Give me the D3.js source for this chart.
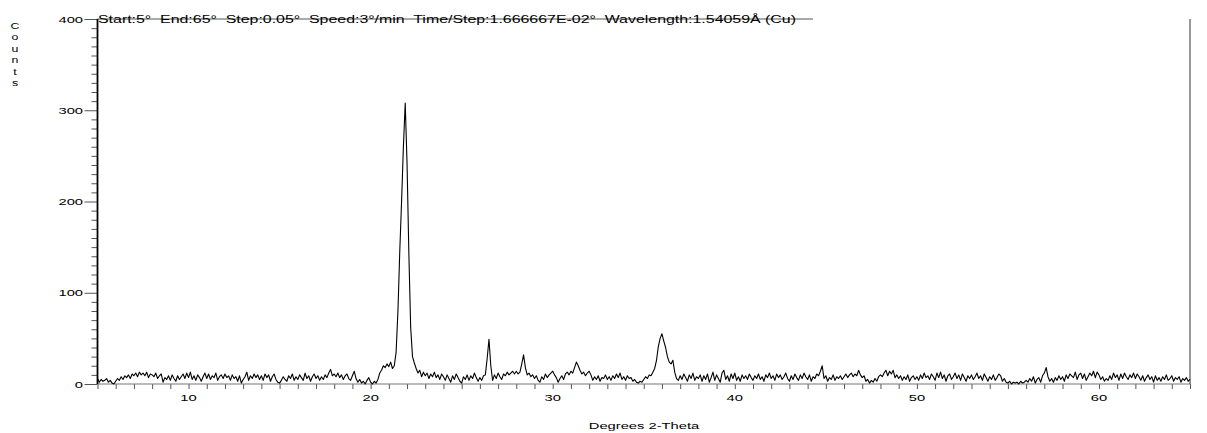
<!DOCTYPE html>
<html>
<head>
<meta charset="utf-8">
<script src="https://cdn.jsdelivr.net/npm/d3@7"></script>
<style>
  html, body { margin: 0; padding: 0; background: #fff; }
  svg { display: block; }
  text { font-family: "Liberation Sans", Arial, sans-serif; fill: #000; }
</style>
</head>
<body>
<svg id="chart" width="1207" height="433"></svg>
<script>
// ---- data ----
const startAngle = 5;      // degrees 2-theta
const angleStep = 0.1;     // sampling of the read-off values
const counts = [
  6,2,5,3,4,6,2,4,1,0,
  3,6,4,8,5,9,7,10,6,11,
  9,12,8,13,10,12,9,13,7,11,
  10,8,12,6,9,11,2,7,5,9,
  4,10,6,3,9,5,8,11,6,12,
  7,13,5,9,4,10,7,3,8,12,
  6,11,5,9,7,12,4,8,10,6,
  11,7,9,4,10,6,8,3,9,1,
  5,8,13,4,9,6,11,7,10,5,
  9,4,11,7,10,3,8,11,5,2,
  1,4,8,5,3,9,6,11,4,8,
  5,10,7,4,12,6,9,3,8,11,
  6,9,4,8,5,10,7,12,16,9,
  11,8,12,7,10,5,9,11,6,4,
  9,14,6,2,5,1,3,0,4,7,
  2,0,3,1,5,12,15,20,18,22,
  19,24,17,20,35,80,145,200,260,308,
  242,143,62,30,23,17,12,15,8,13,
  9,12,6,11,8,13,7,10,5,11,
  8,4,10,6,2,9,5,11,7,3,
  1,8,5,10,4,9,6,12,7,3,
  7,4,9,10,28,49,20,4,10,6,
  12,8,5,11,9,13,10,12,14,11,
  14,11,13,22,32,18,10,12,8,10,
  6,9,4,2,8,5,11,7,10,12,
  14,10,7,2,6,9,5,11,13,10,
  14,12,18,24,20,15,11,13,9,12,
  14,10,4,8,5,9,3,7,6,10,
  5,8,4,9,6,11,7,12,5,8,
  4,9,6,7,3,5,2,1,3,2,
  5,8,6,10,9,13,17,26,41,50,
  55,47,40,30,24,22,26,13,6,4,
  9,5,11,7,3,10,6,12,4,8,
  6,10,3,9,5,11,2,7,13,4,
  10,6,2,12,15,5,9,3,11,6,
  12,4,8,3,10,6,9,5,11,7,
  4,9,6,11,5,8,3,10,7,12,
  6,9,4,11,7,10,5,8,12,6,
  3,9,5,11,7,4,10,6,12,8,
  5,10,3,8,6,11,9,14,20,6,
  9,3,7,5,10,4,8,6,9,5,
  8,11,7,10,12,8,11,9,15,10,
  7,9,3,5,1,4,2,6,3,8,
  10,8,12,15,9,14,11,15,7,10,
  6,9,4,8,5,10,3,7,9,5,
  8,4,10,6,12,7,9,5,11,8,
  4,12,7,13,6,10,3,9,11,5,
  8,12,6,10,4,11,7,3,9,6,
  10,5,8,12,6,9,4,11,7,3,
  8,5,10,4,7,11,9,3,6,2,
  1,3,0,2,1,2,0,3,1,2,
  4,2,6,3,8,1,5,7,2,9,
  12,18,8,3,6,2,7,4,9,5,
  8,3,10,6,11,9,7,13,5,10,
  12,6,11,4,8,12,9,14,7,13,
  10,5,8,3,6,4,9,5,12,7,
  10,4,11,6,12,8,5,10,7,12,
  6,11,8,4,9,3,7,10,5,8,
  2,9,4,7,3,8,5,10,4,6,
  9,3,7,5,8,2,6,4,7,3,
  5
];
const xTickLabels = [10, 20, 30, 40, 50, 60];
const yTickLabels = [0, 100, 200, 300, 400];
const xDomain = [5, 65];
const yDomain = [0, 400];
const headerText = "Start:5°  End:65°  Step:0.05°  Speed:3°/min  Time/Step:1.666667E-02°  Wavelength:1.54059Å (Cu)";
const xTitle = "Degrees 2-Theta";
const yTitleLetters = ["C", "o", "u", "n", "t", "s"];

// ---- layout ----
const L = 97.5, R = 1190, T = 19, B = 384;
const SX = 1.55; // horizontal glyph stretch seen in the reference
const svg = d3.select("#chart");
const x = d3.scaleLinear().domain(xDomain).range([L, R]);
const y = d3.scaleLinear().domain(yDomain).range([B, T]);

const points = counts.map((c, i) => [startAngle + i * angleStep, c]);

// x ticks (every degree)
const xAxis = d3.axisBottom(x)
  .tickValues(d3.range(xDomain[0], xDomain[1] + 1, 1))
  .tickSize(5).tickFormat("");
const gx = svg.append("g").attr("transform", `translate(0,${B})`).call(xAxis);
gx.select(".domain").remove();
gx.selectAll(".tick line").attr("stroke", "#555").attr("stroke-width", 1);

// y minor ticks every 10, major every 100
const gyMinor = svg.append("g").attr("transform", `translate(${L},0)`)
  .call(d3.axisLeft(y).tickValues(d3.range(0, 401, 10).filter(v => v % 100 !== 0)).tickSize(6).tickFormat(""));
gyMinor.select(".domain").remove();
gyMinor.selectAll(".tick line").attr("stroke", "#555");
const gyMajor = svg.append("g").attr("transform", `translate(${L},0)`)
  .call(d3.axisLeft(y).tickValues(yTickLabels).tickSize(13).tickFormat(""));
gyMajor.select(".domain").remove();
gyMajor.selectAll(".tick line").attr("stroke", "#555");

// baseline (x axis), gray
svg.append("line").attr("x1", L).attr("x2", R).attr("y1", B).attr("y2", B)
  .attr("stroke", "#777").attr("stroke-width", 1.2);
// header line at the top
svg.append("line").attr("x1", L).attr("x2", 813).attr("y1", y(400)).attr("y2", y(400))
  .attr("stroke", "#555").attr("stroke-width", 1);
// right edge
svg.append("line").attr("x1", R).attr("x2", R).attr("y1", T).attr("y2", B)
  .attr("stroke", "#333").attr("stroke-width", 1);

// data line
svg.append("path").datum(points)
  .attr("fill", "none").attr("stroke", "#000").attr("stroke-width", 1.1)
  .attr("stroke-linejoin", "round")
  .attr("d", d3.line().x(d => x(d[0])).y(d => y(d[1])));

// y axis line (bold black)
svg.append("line").attr("x1", L).attr("x2", L).attr("y1", T).attr("y2", B)
  .attr("stroke", "#000").attr("stroke-width", 1.8);

// y tick labels
svg.append("g").selectAll("text").data(yTickLabels).join("text")
  .attr("transform", d => `translate(83,${y(d) + 3.5}) scale(${SX},1)`)
  .attr("text-anchor", "end").attr("font-size", 9.5).text(d => d);

// x tick labels
svg.append("g").selectAll("text").data(xTickLabels).join("text")
  .attr("transform", d => `translate(${x(d)},${401}) scale(${SX},1)`)
  .attr("text-anchor", "middle").attr("font-size", 9.5).text(d => d);

// x title
svg.append("text")
  .attr("transform", `translate(644,429) scale(${SX},1)`)
  .attr("text-anchor", "middle").attr("font-size", 9.5).text(xTitle);

// y title, stacked letters
svg.append("g").selectAll("text").data(yTitleLetters).join("text")
  .attr("transform", (d, i) => `translate(15,${29 + i * 11.4}) scale(1.3,1)`)
  .attr("text-anchor", "middle").attr("font-size", 9.5).text(d => d);

// header
svg.append("text")
  .attr("x", 98).attr("y", 22.5)
  .attr("font-size", 10)
  .style("white-space", "pre")
  .attr("textLength", 698).attr("lengthAdjust", "spacingAndGlyphs")
  .text(headerText);
</script>
</body>
</html>
